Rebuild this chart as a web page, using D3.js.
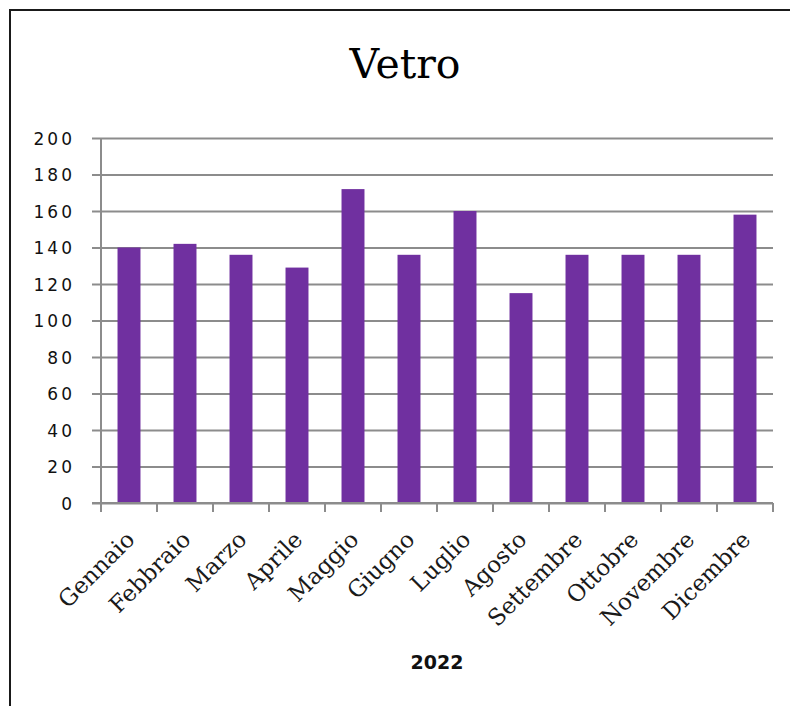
<!DOCTYPE html>
<html>
<head>
<meta charset="utf-8">
<script src="https://cdn.jsdelivr.net/npm/d3@7"></script>
<style>
  html, body { margin: 0; padding: 0; background: #fff; }
  svg { display: block; }
</style>
</head>
<body>
<svg id="chart" width="790" height="706"></svg>
<script>
const title = "Vetro";
const axisTitle = "2022";
const months = ["Gennaio","Febbraio","Marzo","Aprile","Maggio","Giugno","Luglio","Agosto","Settembre","Ottobre","Novembre","Dicembre"];
const values = [140, 142, 136, 129, 172, 136, 160, 115, 136, 136, 136, 158];
const yTicks = [0, 20, 40, 60, 80, 100, 120, 140, 160, 180, 200];

const svg = d3.select("#chart");
const plot = { left: 101, right: 773, top: 138, bottom: 503 };
const serif = "'DejaVu Serif', serif";

// frame
svg.append("rect")
  .attr("x", 10).attr("y", 10)
  .attr("width", 820).attr("height", 740)
  .attr("fill", "none").attr("stroke", "#1a1a1a").attr("stroke-width", 2);

const x = d3.scaleBand().domain(months).range([plot.left, plot.right]).paddingInner(0.59).paddingOuter(0.295);
const xTickScale = d3.scaleLinear().domain([0, months.length]).range([plot.left, plot.right]);
const y = d3.scaleLinear().domain([0, 200]).range([plot.bottom, plot.top]);

const gridColor = "#8c8c8c";

// gridlines + y ticks
const yAxis = d3.axisLeft(y).tickValues(yTicks).tickSize(0).tickFormat(d3.format("d"));
const gy = svg.append("g").attr("transform", `translate(${plot.left},0)`).call(yAxis);
gy.select(".domain").remove();
gy.selectAll(".tick line")
  .attr("x1", -9).attr("x2", plot.right - plot.left)
  .attr("stroke", gridColor).attr("stroke-width", 2);
gy.selectAll(".tick text")
  .attr("x", -26)
  .attr("dy", "0.36em")
  .attr("font-family", "'DejaVu Sans', sans-serif")
  .attr("font-size", 17)
  .attr("letter-spacing", "3px")
  .attr("fill", "#111");

// bars
svg.append("g").selectAll("rect").data(months).join("rect")
  .attr("x", d => x(d))
  .attr("width", x.bandwidth())
  .attr("y", (d, i) => y(values[i]))
  .attr("height", (d, i) => y(0) - y(values[i]))
  .attr("fill", "#7030a0");

// y axis line
svg.append("line")
  .attr("x1", plot.left).attr("x2", plot.left)
  .attr("y1", plot.top).attr("y2", plot.bottom)
  .attr("stroke", gridColor).attr("stroke-width", 2);

// x axis line and category ticks
svg.append("line")
  .attr("x1", plot.left - 9).attr("x2", plot.right)
  .attr("y1", plot.bottom).attr("y2", plot.bottom)
  .attr("stroke", gridColor).attr("stroke-width", 2);
svg.append("g").selectAll("line").data(d3.range(months.length + 1)).join("line")
  .attr("x1", d => xTickScale(d)).attr("x2", d => xTickScale(d))
  .attr("y1", plot.bottom).attr("y2", plot.bottom + 9)
  .attr("stroke", gridColor).attr("stroke-width", 2);

// category labels
svg.append("g").selectAll("text").data(months).join("text")
  .attr("transform", d => `translate(${x(d) + x.bandwidth() / 2 + 7},541) rotate(-45)`)
  .attr("text-anchor", "end")
  .attr("font-family", serif)
  .attr("font-size", 23)
  .attr("fill", "#1a1a1a")
  .text(d => d);

// axis title
svg.append("text")
  .attr("x", 437).attr("y", 669)
  .attr("text-anchor", "middle")
  .attr("font-family", "'DejaVu Sans', sans-serif")
  .attr("font-weight", "bold")
  .attr("font-size", 19)
  .attr("fill", "#111")
  .text(axisTitle);

// chart title
svg.append("text")
  .attr("x", 405).attr("y", 78)
  .attr("text-anchor", "middle")
  .attr("font-family", serif)
  .attr("font-size", 41)
  .attr("fill", "#000")
  .text(title);
</script>
</body>
</html>
